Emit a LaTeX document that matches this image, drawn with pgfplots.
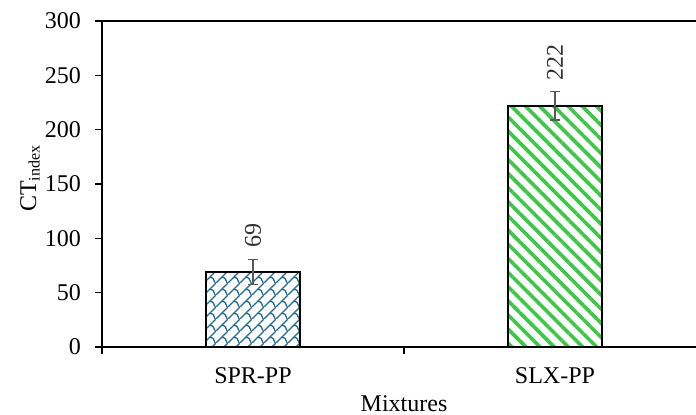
\documentclass[border=0pt]{standalone}
\usepackage{fontspec}
\setmainfont{Liberation Serif}
\usepackage{pgfplots}
\pgfplotsset{compat=1.18}
\usetikzlibrary{patterns.meta}
\definecolor{bluepat}{RGB}{31,105,150}
\definecolor{greenpat}{RGB}{60,200,70}
\definecolor{errgray}{RGB}{89,89,89}
\definecolor{lblgray}{RGB}{50,50,50}
\newcommand\fsz{\fontsize{12}{14.4}\selectfont}
\tikzdeclarepattern{
  name=shingle,
  type=uncolored,
  bounding box={(0pt,0pt) and (6pt,6pt)},
  tile size={(6pt,6pt)},
  code={
    \draw[line width=0.7pt] (-0.5pt,-0.5pt) -- (6.5pt,6.5pt);
    \draw[line width=0.7pt] (3pt,3pt) .. controls (4.8pt,3.2pt) and (5.6pt,1.6pt) .. (6pt,0pt);
  }
}
\begin{document}
\begin{tikzpicture}
\begin{axis}[
  name=ax,
  scale only axis,
  width=297pt, height=163pt,
  xmin=-0.5, xmax=1.467,
  ymin=0, ymax=300,
  ytick={0,50,...,300},
  xtick={0,1},
  xticklabels={SPR-PP,SLX-PP},
  minor xtick={-0.5,0.5,1.5},
  axis x line=box,
  axis y line=left,
  axis line style={-, line width=0.8pt, black},
  xtick pos=left, ytick pos=left,
  tick align=outside,
  major tick length=3.5pt,
  minor tick length=3.5pt,
  major x tick style={draw=none},
  every tick/.style={black, line width=0.8pt},
  minor x tick style={black, line width=0.8pt},
  /pgf/number format/assume math mode=true,
  tick label style={font=\fsz, black},
  xticklabel style={yshift=-3.5pt},
  yticklabel style={xshift=-3.5pt},
  ylabel={CT\textsubscript{index}},
  xlabel={Mixtures},
  every axis y label/.style={at={([xshift=-33pt]axis description cs:0,0.518)}, rotate=90, anchor=base, font=\fsz},
  every axis x label/.style={at={(axis description cs:0.5085,0)}, anchor=north, yshift=-23pt, inner sep=1pt, font=\fsz},
  nodes near coords={\pgfmathprintnumber{\pgfplotspointmeta}},
  every node near coord/.append style={rotate=90, anchor=west, inner xsep=12pt, font=\fsz, text=lblgray},
  clip=false,
]
\addplot[ybar, bar width=47pt, bar shift=0pt, draw=black, line width=0.9pt,
  pattern=shingle, pattern color=bluepat,
  error bars/.cd, y dir=both, y explicit,
  error bar style={line width=0.8pt, errgray},
  error mark options={rotate=90, mark size=2.6pt, line width=0.8pt, errgray}]
  coordinates {(0,69) +- (0,11.5)};
\addplot[ybar, bar width=47pt, bar shift=0pt, draw=black, line width=0.9pt,
  pattern={Lines[angle=-45, distance=5pt, line width=1.8pt]}, pattern color=greenpat,
  error bars/.cd, y dir=both, y explicit,
  error bar style={line width=0.8pt, errgray},
  error mark options={rotate=90, mark size=2.6pt, line width=0.8pt, errgray}]
  coordinates {(1,222) +- (0,13)};
\end{axis}
\pgfresetboundingbox
\path[use as bounding box] ([xshift=-51pt,yshift=-34pt]ax.south west) rectangle ([yshift=10.5pt]ax.north east);
\end{tikzpicture}
\end{document}
